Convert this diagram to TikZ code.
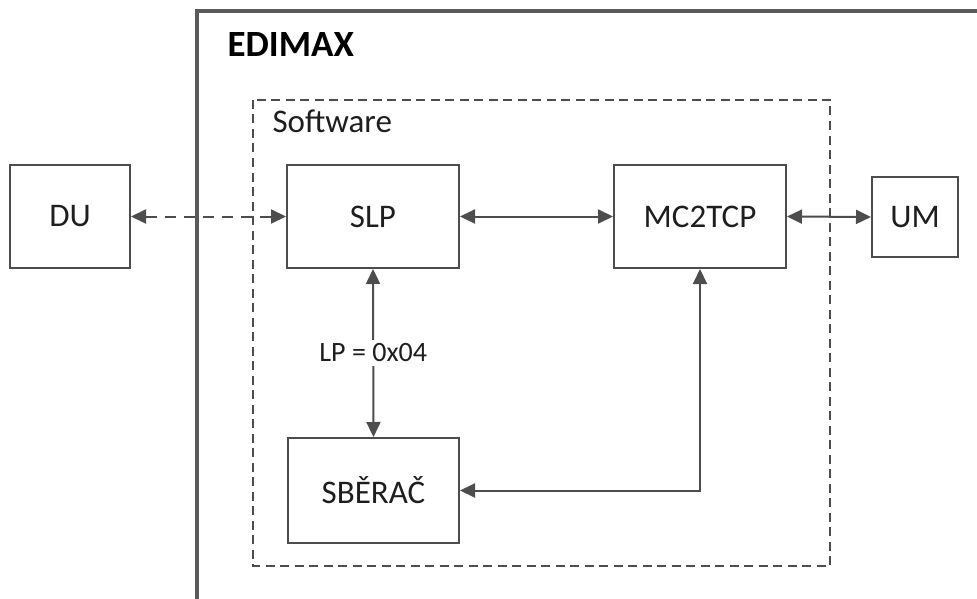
\documentclass[tikz,border=0pt]{standalone}
\usepackage{fontspec}
\setmainfont{Carlito}
\usetikzlibrary{arrows.meta}
\definecolor{linec}{HTML}{4D4D4D}
\definecolor{outerc}{HTML}{5A5A5A}
\definecolor{textc}{HTML}{1E1E1E}
\begin{document}
\begin{tikzpicture}[x=1pt,y=-1pt,
  blk/.style={draw=linec, line width=2pt, inner sep=0pt, text=textc,
              font=\fontsize{33}{36}\selectfont},
  conn/.style={draw=linec, line width=2pt,
               {Triangle[length=15pt,width=14pt]}-{Triangle[length=15pt,width=14pt]}},
  dconn/.style={conn, dash pattern=on 11pt off 8pt},
  ]
\useasboundingbox (0,0) rectangle (977,599);
\clip (0,0) rectangle (977,599);
% outer EDIMAX box
\draw[outerc, line width=3.5pt] (197,620) -- (197,11) -- (1000,11);
\node[anchor=base west, text=black, font=\fontsize{37}{40}\selectfont\bfseries] (edimax) at (224,57) {EDIMAX};
% software dashed box
\draw[linec, line width=2pt, dash pattern=on 9pt off 5.5pt] (253,100) rectangle (830,566);
\node[anchor=base west, text=textc, font=\fontsize{33}{36}\selectfont] (sw) at (269,133) {Software};
% blocks
\node[blk, minimum width=120pt, minimum height=103pt] (du) at (70,216.5) {DU};
\node[blk, minimum width=172pt, minimum height=103pt] (slp) at (373,216.5) {SLP};
\node[blk, minimum width=172pt, minimum height=103pt] (mc) at (700,216.5) {MC2TCP};
\node[blk, minimum width=86pt, minimum height=80pt] (um) at (915,217) {UM};
\node[blk, minimum width=171pt, minimum height=105pt] (sb) at (373.5,490.5) {SBĚRAČ};
% connectors
\draw[dconn] (du.east) -- (slp.west);
\draw[conn] (slp.east) -- (mc.west);
\draw[conn] (mc.east) -- (um.west);
\draw[conn] (slp.south) -- node[fill=white, inner sep=4pt, text=textc, font=\fontsize{28}{30}\selectfont] (lp) {LP = 0x04} (sb.north);
\coordinate (corner) at (mc.south |- sb.east);
\draw[conn] (mc.south) -- (corner) -- (sb.east);
\end{tikzpicture}
\end{document}
